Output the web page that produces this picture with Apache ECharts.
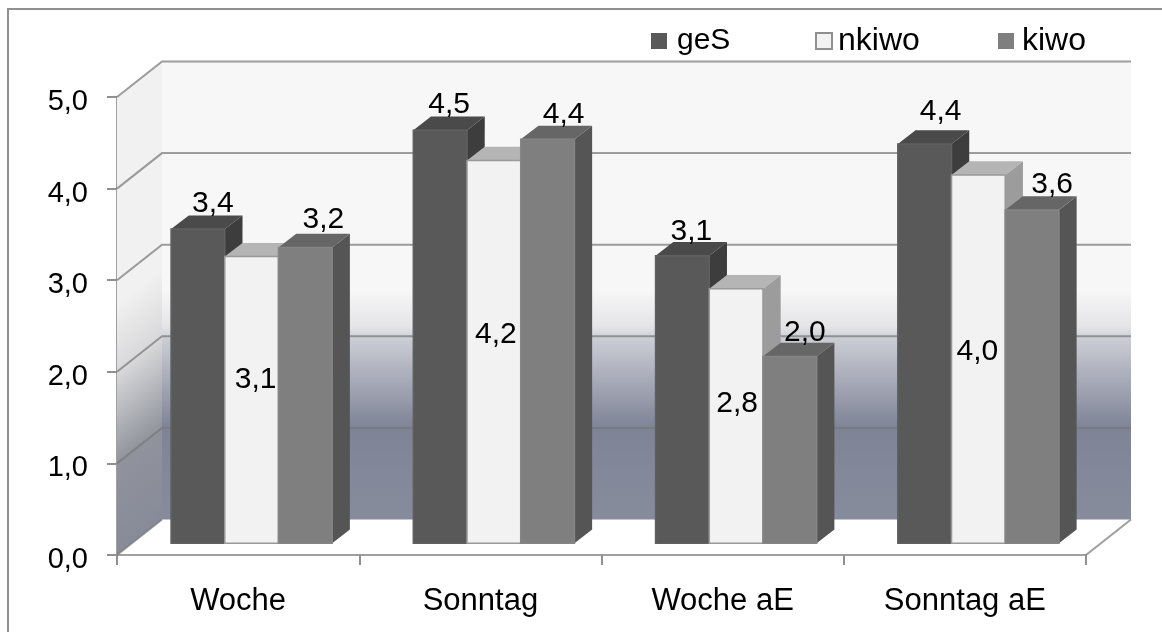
<!DOCTYPE html>
<html>
<head>
<meta charset="utf-8">
<style>html,body{margin:0;padding:0;background:#fff}#c{width:1162px;height:632px}</style>
<script src="https://cdn.jsdelivr.net/npm/echarts@6/dist/echarts.min.js"></script>
</head>
<body>
<div id="c"></div>
<script>
const categories = ['Woche', 'Sonntag', 'Woche aE', 'Sonntag aE'];
const yTicks = [0, 1, 2, 3, 4, 5];
const geS = [3.43, 4.51, 3.14, 4.36];
const nkiwo = [3.13, 4.18, 2.78, 4.02];
const kiwo = [3.23, 4.41, 2.04, 3.64];

const FONT = '"Liberation Sans", Arial, sans-serif';
const FS = 30;
const fmt = v => v.toFixed(1).replace('.', ',');

// label nudges (px) from each bar's top-centre, per series
const NUDGE = {
  geS: [[15, -25.5], [9, -25.5], [9, -23.5], [16, -32.5]],
  nkiwo: [[4, 123.5], [2, 174.5], [1, 115.5], [-1, 176.5]],
  kiwo: [[18, -28], [16, -25], [15, -23.5], [20, -25.5]]
};
const STYLE = {
  geS: { front: '#595959', top: '#4a4a4a', side: '#3d3d3d', stroke: '#606060' },
  nkiwo: { front: '#f2f2f2', top: '#b5b5b5', side: '#9c9c9c', stroke: '#999999' },
  kiwo: { front: '#7f7f7f', top: '#666666', side: '#555555', stroke: '#858585' }
};
const WALL_DX = 45, WALL_DY = 35.5;
const SHIFT_X = 13.5, SHIFT_Y = 11.7, DEPTH_X = 17.7, DEPTH_Y = 13.7;

function wallsRender(params, api) {
  const x0 = api.coord([0, 0])[0] - api.size([1, 0])[0] / 2;
  const x1 = x0 + api.size([1, 0])[0] * categories.length;
  const y0 = api.coord([0, 0])[1];
  const y5 = api.coord([0, 5])[1];
  const ax = x0 + WALL_DX, ay = y5 - WALL_DY;
  const children = [
    { type: 'polygon', shape: { points: [[ax, ay], [x1 + WALL_DX, ay], [x1 + WALL_DX, y0 - WALL_DY], [ax, y0 - WALL_DY]] },
      style: { fill: new echarts.graphic.LinearGradient(0, 0, 0, 1, [
        { offset: 0, color: '#f7f7f7' }, { offset: 0.5, color: '#f7f7f7' }, { offset: 0.58, color: '#e4e4e7' },
        { offset: 0.605, color: '#cbcdd5' }, { offset: 0.8, color: '#7e8396' }, { offset: 1, color: '#878c9d' }
      ]) } },
    { type: 'polygon', shape: { points: [[x0, y5], [ax, ay], [ax, y0 - WALL_DY], [x0, y0]] },
      style: { fill: new echarts.graphic.LinearGradient(ax, ay, ax + 224, ay + 280, [
        { offset: 0, color: '#f1f1f1' }, { offset: 0.45, color: '#f1f1f1' }, { offset: 0.6, color: '#d8d8da' },
        { offset: 0.8, color: '#90939c' }, { offset: 1, color: '#878b99' }
      ], true) } }
  ];
  const gl = { stroke: 'rgba(120,120,120,0.72)', lineWidth: 2 };
  yTicks.forEach(t => {
    const y = api.coord([0, t])[1];
    const pts = t === 0
      ? [[x0, y], [x0 + WALL_DX, y - WALL_DY]]
      : [[x0, y], [x0 + WALL_DX, y - WALL_DY], [x1 + WALL_DX, y - WALL_DY]];
    children.push({ type: 'polyline', shape: { points: pts }, style: Object.assign({ fill: null }, gl) });
  });
  children.push({ type: 'line', shape: { x1: x1, y1: y0, x2: x1 + WALL_DX, y2: y0 - WALL_DY }, style: gl });
  return { type: 'group', children };
}

function barRender(name, index) {
  const st = STYLE[name];
  return function (params, api) {
    const c = api.value(0), v = api.value(1);
    const band = api.size([1, 0])[0];
    const w = band * 0.2217;
    const cx = api.coord([c, 0])[0];
    const x = cx + SHIFT_X - 1.5 * w + index * w;
    const b = api.coord([c, 0])[1] - SHIFT_Y;
    const t = api.coord([c, v])[1] - SHIFT_Y;
    const n = NUDGE[name][params.dataIndex];
    const lw = { lineWidth: 1.5, stroke: st.stroke };
    return { type: 'group', children: [
      { type: 'polygon', shape: { points: [[x + w, t], [x + w + DEPTH_X, t - DEPTH_Y], [x + w + DEPTH_X, b - DEPTH_Y], [x + w, b]] }, style: { fill: st.side } },
      { type: 'polygon', shape: { points: [[x, t], [x + DEPTH_X, t - DEPTH_Y], [x + w + DEPTH_X, t - DEPTH_Y], [x + w, t]] }, style: { fill: st.top } },
      { type: 'rect', shape: { x, y: t, width: w, height: b - t }, style: Object.assign({ fill: st.front }, lw) },
      { type: 'text', z2: 50, style: { text: fmt(v), x: x + w / 2 + n[0], y: t + n[1], align: 'center', verticalAlign: 'middle', font: FS + 'px ' + FONT, fill: '#000' } }
    ] };
  };
}

const toData = arr => arr.map((v, i) => [i, v]);
const legendItem = (name, left, extra, size, pad) => ({
  left, top: 23, itemWidth: 16, itemHeight: 16, icon: 'rect', selectedMode: false,
  padding: 0, data: [{ name, itemStyle: extra }],
  textStyle: { fontFamily: FONT, fontSize: size, color: '#000', padding: [0, 0, 0, pad], lineHeight: 36 }
});

const chart = echarts.init(document.getElementById('c'), null, { renderer: 'canvas' });
chart.setOption({
  animation: false,
  backgroundColor: '#fff',
  tooltip: { show: false },
  grid: { left: 117, right: 76, top: 97, bottom: 77 },
  xAxis: {
    type: 'category', data: categories,
    axisLine: { lineStyle: { color: '#a0a0a0', width: 2 } },
    axisTick: { show: true, length: 10, alignWithLabel: false, lineStyle: { color: '#909090', width: 2 } },
    axisLabel: { color: '#000', fontFamily: FONT, fontSize: 31, margin: 31 }
  },
  yAxis: {
    type: 'value', min: 0, max: 5, interval: 1,
    axisLine: { show: true, lineStyle: { color: '#a0a0a0', width: 2 } },
    axisTick: { show: true, length: 10, lineStyle: { color: '#909090', width: 2 } },
    splitLine: { show: false },
    axisLabel: { color: '#000', fontFamily: FONT, fontSize: 29, margin: 29, verticalAlign: 'top', lineHeight: 10, formatter: v => fmt(v) }
  },
  legend: [
    legendItem('geS', 651, { color: '#595959' }, 30, 5),
    legendItem('nkiwo', 815, { color: '#f2f2f2', borderColor: '#8f8f8f', borderWidth: 2 }, 32, 1),
    legendItem('kiwo', 998, { color: '#7f7f7f' }, 32, 3)
  ],
  graphic: [
    { type: 'polyline', silent: true, shape: { points: [[8, 632], [8, 9], [1162, 9]] }, style: { fill: null, stroke: '#8f8f8f', lineWidth: 2 } }
  ],
  series: [
    { type: 'custom', name: 'walls', z: 1, silent: true, renderItem: wallsRender, data: [[0, 0]], encode: { x: 0, y: 1 } },
    { type: 'custom', name: 'geS', z: 2, itemStyle: { color: '#595959' }, renderItem: barRender('geS', 0), data: toData(geS), encode: { x: 0, y: 1 } },
    { type: 'custom', name: 'nkiwo', z: 3, itemStyle: { color: '#f2f2f2' }, renderItem: barRender('nkiwo', 1), data: toData(nkiwo), encode: { x: 0, y: 1 } },
    { type: 'custom', name: 'kiwo', z: 4, itemStyle: { color: '#7f7f7f' }, renderItem: barRender('kiwo', 2), data: toData(kiwo), encode: { x: 0, y: 1 } }
  ]
});
</script>
</body>
</html>
